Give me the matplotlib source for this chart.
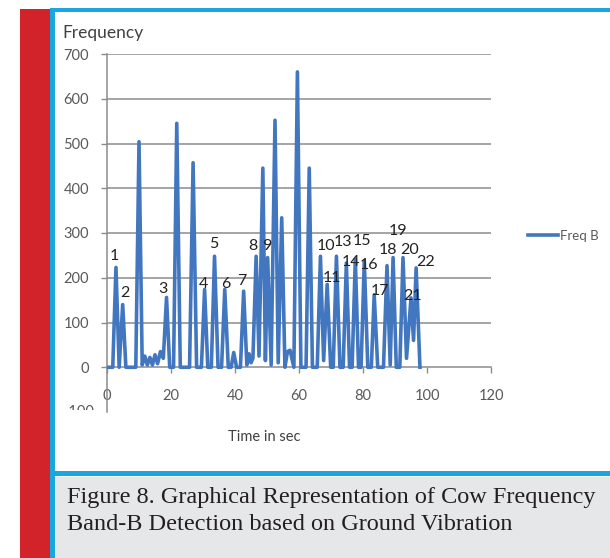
import matplotlib
matplotlib.use("Agg")
import matplotlib.pyplot as plt
from matplotlib.patches import Rectangle
from matplotlib.transforms import Bbox

W, H = 610, 558

# Freq B samples (seconds, frequency)
time_s = [0, 1.8, 2.8, 3.8, 4.9, 5.9, 9.0, 10.0, 11.0, 11.8, 12.6, 13.4, 14.2, 15.0,
          15.8, 16.7, 17.6, 18.6, 19.6, 20.8, 21.8, 22.9, 25.8, 26.9, 28.0, 29.5,
          30.5, 31.5, 32.6, 33.6, 34.7, 35.8, 36.8, 37.9, 38.8, 39.6, 40.5, 41.7,
          42.7, 43.7, 44.4, 45.0, 45.6, 46.6, 47.5, 48.7, 49.5, 50.2, 51.3, 52.5,
          53.5, 54.6, 55.6, 56.4, 57.2, 58.4, 59.5, 60.6, 62.2, 63.2, 64.2, 65.7,
          66.7, 67.7, 68.8, 69.9, 70.7, 71.7, 72.8, 73.8, 74.8, 75.8, 76.6, 77.6,
          78.6, 79.4, 80.4, 81.5, 82.6, 83.5, 84.6, 86.4, 87.5, 88.5, 89.4, 90.4,
          91.5, 92.5, 93.6, 95.0, 95.8, 96.6, 97.8]
freq_b = [0, 0, 223, 0, 140, 0, 0, 504, 5, 25, 5, 22, 5, 28,
          8, 35, 20, 156, 0, 0, 545, 0, 0, 457, 0, 0,
          174, 0, 0, 248, 0, 0, 174, 0, 0, 33, 0, 0,
          170, 5, 30, 10, 20, 248, 25, 445, 15, 245, 5, 552,
          10, 334, 0, 35, 38, 0, 660, 0, 0, 445, 0, 0,
          248, 15, 185, 0, 0, 248, 0, 0, 233, 0, 0, 242,
          0, 0, 237, 0, 0, 162, 0, 0, 227, 5, 245, 0,
          0, 245, 20, 155, 60, 222, 0]

# Peak numbering labels (text, x in sec, y in frequency units)
peak_labels = ["1", "2", "3", "4", "5", "6", "7", "8", "9", "10", "11", "13",
               "14", "15", "16", "17", "18", "19", "20", "21", "22"]
label_x = [2.2, 5.6, 17.4, 30.2, 33.3, 37.1, 42.1, 45.5, 49.8, 68.3, 70.4, 73.7,
           76.3, 79.6, 81.9, 85.4, 87.9, 91.0, 94.4, 95.6, 99.7]
label_y = [249, 165, 174, 187, 276, 187, 192, 272, 272, 272, 200, 281,
           236, 283, 229, 171, 261, 305, 261, 160, 236]

y_ticks = [0, 100, 200, 300, 400, 500, 600, 700]
x_ticks = [0, 20, 40, 60, 80, 100, 120]

LINE_BLUE = "#4277C0"
GRID = "#8C8C8C"
TICK_GRAY = "#595959"
FONT = "Lato"

fig = plt.figure(figsize=(W / 100, H / 100), dpi=100)
fig.patch.set_facecolor("white")


def fx(px):
    return px / W


def fy(py):
    return 1 - py / H


# page furniture: red side bar, cyan frame, grey caption panel
fig.add_artist(Rectangle((fx(20), 0), fx(50) - fx(20), fy(8.5), transform=fig.transFigure,
                         facecolor="#D2232A", edgecolor="none", zorder=0))
fig.add_artist(Rectangle((fx(52), 0), 1 - fx(52), fy(477) - 0, transform=fig.transFigure,
                         facecolor="#E6E7E9", edgecolor="none", zorder=0))
fig.add_artist(Rectangle((fx(50), 0), fx(54.5) - fx(50), fy(8.5), transform=fig.transFigure,
                         facecolor="#1AA7E0", edgecolor="none", zorder=1))
fig.add_artist(Rectangle((fx(50), fy(12)), 1 - fx(50), fy(8.5) - fy(12), transform=fig.transFigure,
                         facecolor="#1AA7E0", edgecolor="none", zorder=1))
fig.add_artist(Rectangle((fx(50), fy(476)), 1 - fx(50), fy(471) - fy(476), transform=fig.transFigure,
                         facecolor="#1AA7E0", edgecolor="none", zorder=1))

# chart area
x0, x1 = 107, 491
yt, yb = 54, 412
ax = fig.add_axes([fx(x0), fy(yb), fx(x1) - fx(x0), fy(yt) - fy(yb)])
ax.set_facecolor("none")
ax.set_xlim(0, 120)
ax.set_ylim(-100, 700)

for v in y_ticks[1:]:
    ax.axhline(v, color=GRID, lw=1.1, zorder=1)

ax.plot(time_s, freq_b, color=LINE_BLUE, lw=2.6, solid_joinstyle="round", zorder=3,
        label="Freq B")

for s, lx, ly in zip(peak_labels, label_x, label_y):
    ax.text(lx, ly, s, ha="center", va="center", fontsize=11.5, color="#222222",
            family=FONT, zorder=4)

for side in ["top", "right"]:
    ax.spines[side].set_visible(False)
ax.spines["bottom"].set_position(("data", 0))
ax.spines["bottom"].set_color(GRID)
ax.spines["left"].set_color(GRID)
ax.spines["bottom"].set_linewidth(1.1)
ax.spines["left"].set_linewidth(1.1)

ax.set_xticks(x_ticks)
ax.set_yticks(y_ticks)
ax.tick_params(axis="both", colors=GRID, labelcolor=TICK_GRAY, length=4, width=1,
               direction="out", labelsize=10.5)
ax.tick_params(axis="x", pad=12)
ax.tick_params(axis="y", pad=9)
for lbl in ax.get_xticklabels() + ax.get_yticklabels():
    lbl.set_family(FONT)

# the -100 value label sits behind the category labels, only its top shows
neg = ax.text(-4.0, -100, "-100", ha="right", va="center", fontsize=10.5, color=TICK_GRAY,
              family=FONT, clip_on=True)
neg.set_clip_box(Bbox.from_extents(0, fy(409.5) * H, W, H))

fig.text(fx(62), fy(33), "Frequency", ha="left", va="center", fontsize=12.5,
         color="#404040", family=FONT)
fig.text(fx(264), fy(437), "Time in sec", ha="center", va="center", fontsize=10.5,
         color="#404040", family=FONT)

# legend
leg = ax.legend(loc="center left", bbox_to_anchor=(fx(516), fy(236)),
                bbox_transform=fig.transFigure, frameon=False, handlelength=2.3,
                handletextpad=0.1, prop={"family": FONT, "size": 9.5})
for t in leg.get_texts():
    t.set_color(TICK_GRAY)

# caption
fig.text(fx(67), fy(497), "Figure 8. Graphical Representation of Cow Frequency",
         ha="left", va="center", fontsize=17.5, color="#231F20", family="Liberation Serif")
fig.text(fx(67), fy(524), "Band-B Detection based on Ground Vibration",
         ha="left", va="center", fontsize=17.5, color="#231F20", family="Liberation Serif")

fig.savefig("out.png", dpi=100, facecolor="white")
